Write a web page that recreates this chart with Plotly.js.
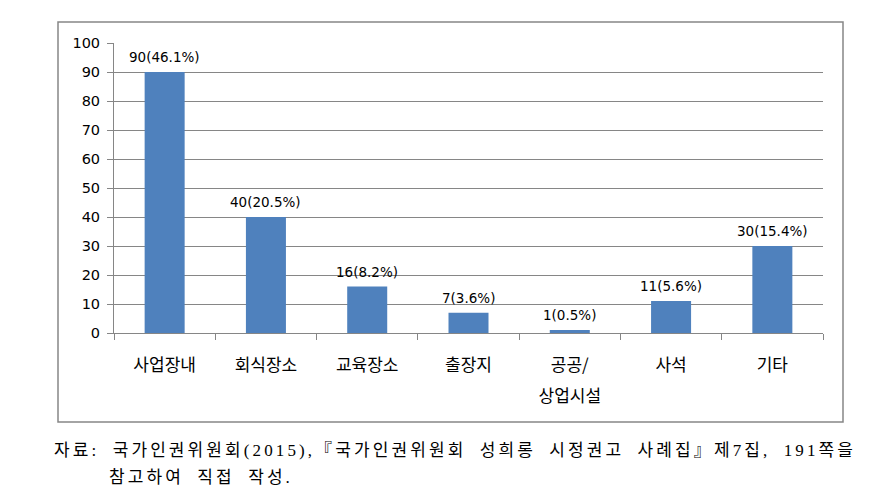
<!DOCTYPE html>
<html>
<head>
<meta charset="utf-8">
<script src="https://cdn.plot.ly/plotly-3.0.1.min.js"></script>
<style>html,body{margin:0;padding:0;background:#fff;}#chart{width:879px;height:497px;}</style>
</head>
<body>
<div id="chart"></div>
<script>
// Data
const categories = ['사업장내', '회식장소', '교육장소', '출장지', '공공/<br><span style="baseline-shift:-8px">상업시설</span>', '사석', '기타'];
const counts = [90, 40, 16, 7, 1, 11, 30];
const percents = [46.1, 20.5, 8.2, 3.6, 0.5, 5.6, 15.4];
const yTicks = [0, 10, 20, 30, 40, 50, 60, 70, 80, 90, 100];
const captionLine1 = '자료: 국가인권위원회(2015),『국가인권위원회 성희롱 시정권고 사례집』제7집, 191쪽을';
const captionLine2 = '참고하여 직접 작성.';

const labels = counts.map((c, i) => c + '(' + percents[i] + '%)');

const W = 879, H = 497;
const L = 114, R = 56, T = 43, B = 164;
const pw = W - L - R, ph = H - T - B;
const px = x => (x - L) / pw;
const py = y => (H - B - y) / ph;

const trace = {
  type: 'bar',
  x: categories,
  y: counts,
  marker: {color: '#4F81BD', line: {width: 0}},
  hoverinfo: 'skip'
};

const gray = '#868686';
const capStyle = 'letter-spacing:3.1px;word-spacing:6px';
const capFont = {family: 'Liberation Serif, Noto Sans CJK KR, serif', size: 17, color: '#000'};

const valueLabels = categories.map((c, i) => ({
  xref: 'x', yref: 'y', x: c, y: counts[i],
  text: labels[i], showarrow: false,
  xanchor: 'center', yanchor: 'middle', yshift: 15,
  font: {family: 'DejaVu Sans, sans-serif', size: 13.5, color: '#000'}
}));

const layout = {
  width: W, height: H,
  margin: {l: L, r: R, t: T, b: B, pad: 0},
  paper_bgcolor: '#fff', plot_bgcolor: '#fff',
  showlegend: false,
  bargap: 0.605,
  xaxis: {
    type: 'category',
    showgrid: false,
    showline: true, linecolor: gray, linewidth: 1,
    ticks: 'outside', ticklen: 6, tickcolor: gray, tickwidth: 1,
    tickson: 'boundaries',
    ticklabelstandoff: 17,
    tickfont: {family: 'Noto Sans CJK KR, sans-serif', size: 17, color: '#000'},
    zeroline: false, fixedrange: true
  },
  yaxis: {
    range: [0, 100],
    tickmode: 'array', tickvals: yTicks, ticktext: yTicks.map(String),
    showgrid: true, gridcolor: gray, gridwidth: 1,
    showline: true, linecolor: gray, linewidth: 1,
    ticks: 'outside', ticklen: 6, tickcolor: gray, tickwidth: 1,
    ticklabelstandoff: 4,
    tickfont: {family: 'DejaVu Sans, sans-serif', size: 14.5, color: '#000'},
    zeroline: false, fixedrange: true
  },
  shapes: [{
    type: 'rect', xref: 'paper', yref: 'paper',
    x0: px(58), x1: px(843), y0: py(422), y1: py(22),
    line: {color: gray, width: 1.5}, fillcolor: 'rgba(0,0,0,0)', layer: 'below'
  }],
  annotations: valueLabels.concat([
    {xref: 'paper', yref: 'paper', x: px(52), y: py(450), xanchor: 'left', yanchor: 'middle',
     text: '<span style="' + capStyle + '">' + captionLine1 + '</span>', showarrow: false, font: capFont},
    {xref: 'paper', yref: 'paper', x: px(107), y: py(477), xanchor: 'left', yanchor: 'middle',
     text: '<span style="' + capStyle + '">' + captionLine2 + '</span>', showarrow: false, font: capFont}
  ])
};

Plotly.newPlot('chart', [trace], layout, {staticPlot: true, displayModeBar: false});
</script>
</body>
</html>
